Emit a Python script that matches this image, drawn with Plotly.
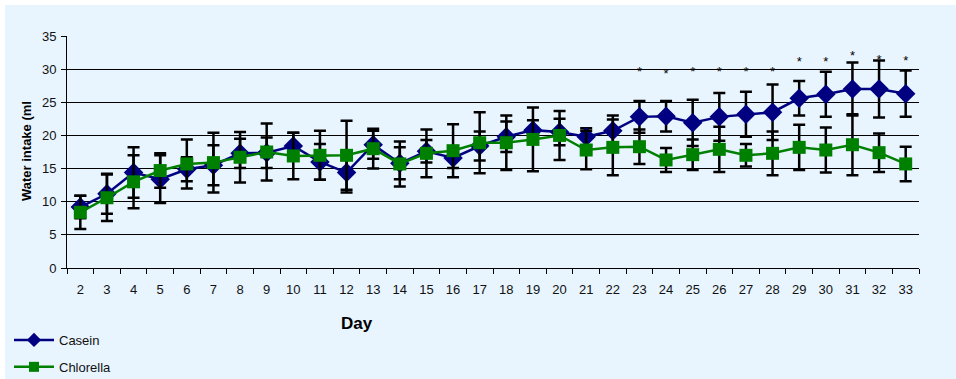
import plotly.graph_objects as go

# Daily water intake (ml), mean and error per group
days = [str(d) for d in range(2, 34)]

casein = [9.2, 11.2, 14.4, 13.4, 14.9, 15.5, 17.3, 17.4, 18.4, 16.0,
          14.4, 18.6, 15.8, 17.6, 16.6, 18.4, 19.8, 20.8, 20.5, 19.8,
          20.7, 22.8, 22.9, 21.9, 22.8, 23.2, 23.5, 25.6, 26.2, 27.0,
          27.0, 26.3]
casein_err = [1.7, 3.0, 3.8, 3.6, 1.8, 3.0, 2.2, 2.3, 2.0, 2.7,
              3.0, 2.1, 2.4, 1.7, 1.5, 2.2, 2.3, 1.5, 2.0, 1.3,
              2.3, 2.4, 2.3, 3.5, 3.6, 3.4, 4.2, 2.6, 3.4, 4.0,
              4.3, 3.5]

chlorella = [8.4, 10.6, 13.0, 14.7, 15.7, 15.9, 16.7, 17.5, 16.9, 17.0,
             17.0, 18.0, 15.7, 17.3, 17.7, 18.9, 18.9, 19.4, 20.0, 17.8,
             18.2, 18.3, 16.3, 17.1, 17.9, 17.0, 17.3, 18.2, 17.8, 18.6,
             17.4, 15.7]
chlorella_err = [2.5, 3.5, 4.0, 2.6, 3.7, 4.5, 3.8, 4.3, 3.5, 3.7,
                 5.2, 3.0, 3.4, 3.6, 4.0, 4.6, 4.1, 4.8, 3.7, 2.9,
                 4.2, 2.6, 1.8, 2.3, 3.4, 1.7, 3.3, 3.4, 3.4, 4.6,
                 2.9, 2.6]

# Significance markers (asterisk anchor heights)
sig_days = [str(d) for d in range(23, 34)]
sig_y = [29.5, 29.1, 29.4, 29.4, 29.4, 29.4, 30.9, 30.9, 31.8, 31.2, 31.1]

y_ticks = [0, 5, 10, 15, 20, 25, 30, 35]

FONT = "Arial, Liberation Sans, sans-serif"
BG = "#E8F4FE"
NAVY = "#000080"
GREEN = "#008000"

W, H = 956, 379
L, R, T, B = 67, 37, 36, 111
pw, ph = W - L - R, H - T - B


def px_x(p):
    return (p - L) / pw


def px_y(p):
    return (H - B - p) / ph


err_style = dict(type="data", visible=True, color="black", thickness=2.5, width=6)

fig = go.Figure()

fig.add_trace(go.Scatter(
    x=days, y=casein, name="Casein", mode="lines+markers",
    line=dict(color=NAVY, width=2.5),
    marker=dict(symbol="diamond", size=15, color=NAVY),
    error_y=dict(array=casein_err, **err_style),
    showlegend=False,
))
fig.add_trace(go.Scatter(
    x=days, y=chlorella, name="Chlorella", mode="lines+markers",
    line=dict(color=GREEN, width=2.5),
    marker=dict(symbol="square", size=13, color=GREEN),
    error_y=dict(array=chlorella_err, **err_style),
    showlegend=False,
))
fig.add_trace(go.Scatter(
    x=sig_days, y=sig_y, mode="text", text=["*"] * len(sig_days),
    textposition="middle center", textfont=dict(size=13, color="black", family=FONT),
    showlegend=False, hoverinfo="skip", cliponaxis=False,
))

# Legend entries with smaller symbols
fig.add_trace(go.Scatter(
    x=[None], y=[None], name="Casein", mode="lines+markers",
    line=dict(color=NAVY, width=2.5),
    marker=dict(symbol="diamond", size=11, color=NAVY),
    legendgroup="a",
))
fig.add_trace(go.Scatter(
    x=[None], y=[None], name="Chlorella", mode="lines+markers",
    line=dict(color=GREEN, width=2.5),
    marker=dict(symbol="square", size=10, color=GREEN),
    legendgroup="b",
))

fig.update_layout(
    width=W, height=H,
    margin=dict(l=L, r=R, t=T, b=B, pad=0, autoexpand=False),
    paper_bgcolor="white",
    plot_bgcolor=BG,
    font=dict(family=FONT, size=13, color="#111111"),
    showlegend=True,
    legend=dict(
        x=px_x(9), y=px_y(325), xanchor="left", yanchor="top",
        bgcolor="rgba(0,0,0,0)", font=dict(size=13, family=FONT, color="#111111"),
        tracegroupgap=7, itemwidth=40,
    ),
    xaxis=dict(
        type="category", categoryorder="array", categoryarray=days,
        range=[-0.5, len(days) - 0.5],
        showline=True, linecolor="black", linewidth=1,
        ticks="outside", tickson="boundaries", ticklen=5, tickcolor="black",
        ticklabelstandoff=9,
        showgrid=False, zeroline=False,
        tickfont=dict(size=13, family=FONT, color="#111111"),
    ),
    yaxis=dict(
        range=[0, 35], tickvals=y_ticks,
        showline=True, linecolor="black", linewidth=1,
        ticks="outside", ticklen=5, tickcolor="black",
        ticklabelstandoff=2,
        showgrid=True, gridcolor="black", gridwidth=1,
        zeroline=False,
        tickfont=dict(size=13, family=FONT, color="#111111"),
    ),
    shapes=[dict(
        type="rect", xref="paper", yref="paper", layer="below",
        x0=px_x(5), x1=px_x(W + 5), y0=px_y(H + 5), y1=px_y(5),
        fillcolor=BG, line=dict(width=0),
    )],
    annotations=[
        dict(text="<b>Day</b>", xref="paper", yref="paper",
             x=px_x(357), y=px_y(323), xanchor="center", yanchor="middle",
             showarrow=False, font=dict(size=17, family=FONT, color="black")),
        dict(text="<b>Water intake (ml</b>", xref="paper", yref="paper",
             x=px_x(26), y=px_y(151), xanchor="center", yanchor="middle",
             textangle=-90, showarrow=False,
             font=dict(size=13, family=FONT, color="black")),
    ],
)

fig.write_html("out.html")
